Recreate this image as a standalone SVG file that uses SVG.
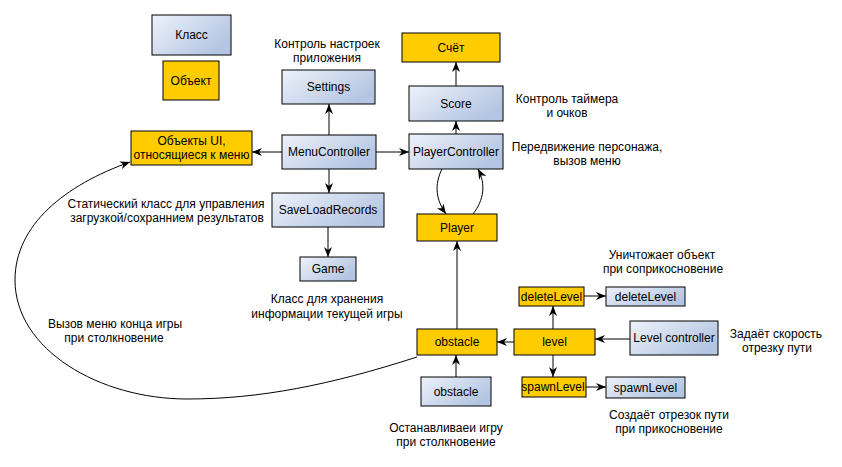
<svg xmlns="http://www.w3.org/2000/svg" width="842" height="467" viewBox="0 0 842 467">
<defs>
<linearGradient id="blue" x1="0" y1="0" x2="1" y2="0.6">
<stop offset="0" stop-color="#eef2fa"/>
<stop offset="1" stop-color="#b3c5e2"/>
</linearGradient>
<marker id="arr" markerUnits="userSpaceOnUse" markerWidth="10" markerHeight="8" refX="10" refY="4" orient="auto">
<path d="M0,0 L10,4 L0,8 L3,4 Z" fill="#000"/>
</marker>
</defs>
<style>
text{font-family:"Liberation Sans",Arial,sans-serif;font-size:12px;fill:#000;text-anchor:middle}
.cls{fill:url(#blue);stroke:#000;stroke-width:1}
.obj{fill:#ffcc00;stroke:#000;stroke-width:1}
.c{fill:none;stroke:#000;stroke-width:1;marker-end:url(#arr)}
</style>
<rect width="842" height="467" fill="#fff"/>

<g id="legend-class"><rect class="cls" x="152" y="15" width="79" height="40"/><text x="191.5" y="39">Класс</text></g>
<g id="legend-object"><rect class="obj" x="163" y="61" width="56" height="39"/><text x="191" y="84.5">Объект</text></g>

<g id="settings"><rect class="cls" x="282" y="70" width="93" height="34"/><text x="328.5" y="91">Settings</text></g>
<g id="menucontroller"><rect class="cls" x="282" y="135" width="94" height="34"/><text x="329" y="156">MenuController</text></g>
<g id="ui-objects"><rect class="obj" x="131" y="131" width="121" height="34"/><text x="191.5" y="145">Объекты UI,</text><text x="191.5" y="159">относящиеся к меню</text></g>
<g id="saveloadrecords"><rect class="cls" x="272" y="193" width="112" height="34"/><text x="328" y="214">SaveLoadRecords</text></g>
<g id="game"><rect class="cls" x="300" y="257" width="56" height="24"/><text x="328" y="273">Game</text></g>

<g id="schet"><rect class="obj" x="402" y="33" width="98" height="29"/><text x="451" y="51.5">Счёт</text></g>
<g id="score"><rect class="cls" x="409" y="86" width="94" height="35"/><text x="456" y="107.5">Score</text></g>
<g id="playercontroller"><rect class="cls" x="409" y="134" width="94" height="35"/><text x="456" y="155.5">PlayerController</text></g>
<g id="player"><rect class="obj" x="417" y="214" width="80" height="27"/><text x="457" y="231.5">Player</text></g>
<g id="obstacle-obj"><rect class="obj" x="417" y="329" width="80" height="26"/><text x="457" y="346">obstacle</text></g>
<g id="obstacle-cls"><rect class="cls" x="421" y="377" width="70" height="29"/><text x="456" y="395.5">obstacle</text></g>

<g id="level"><rect class="obj" x="514" y="329" width="81" height="26"/><text x="554.5" y="346">level</text></g>
<g id="levelcontroller"><rect class="cls" x="630" y="321" width="88" height="34"/><text x="674" y="342">Level controller</text></g>
<g id="deletelevel-obj"><rect class="obj" x="519" y="287" width="65" height="19"/><text x="551.5" y="300.5">deleteLevel</text></g>
<g id="deletelevel-cls"><rect class="cls" x="606" y="287" width="79" height="19"/><text x="645.5" y="300.5">deleteLevel</text></g>
<g id="spawnlevel-obj"><rect class="obj" x="522" y="377" width="64" height="20"/><text x="553" y="391">spawnLevel</text></g>
<g id="spawnlevel-cls"><rect class="cls" x="606" y="377" width="79" height="21"/><text x="645.5" y="391.5">spawnLevel</text></g>

<g id="labels">
<text x="327" y="48">Контроль настроек</text><text x="327" y="62">приложения</text>
<text x="567" y="103">Контроль таймера</text><text x="567" y="117">и очков</text>
<text x="587" y="151">Передвижение персонажа,</text><text x="587" y="165">вызов меню</text>
<text x="166" y="208">Статический класс для управления</text><text x="167" y="222">загрузкой/сохраннием результатов</text>
<text x="327" y="303">Класс для хранения</text><text x="327" y="318">информации текущей игры</text>
<text x="115" y="328">Вызов меню конца игры</text><text x="114" y="342">при столкновение</text>
<text x="446" y="432">Останавливаеи игру</text><text x="446" y="446">при столкновение</text>
<text x="662" y="259">Уничтожает объект</text><text x="663" y="273">при соприкосновение</text>
<text x="776" y="338">Задаёт скорость</text><text x="777" y="352">отрезку пути</text>
<text x="669" y="419">Создаёт отрезок пути</text><text x="669" y="433">при прикосновение</text>
</g>

<g id="connectors">
<path class="c" d="M329,135 L329,104"/>
<path class="c" d="M282,152 L252,152"/>
<path class="c" d="M376,152 L409,152"/>
<path class="c" d="M329,169 L329,193"/>
<path class="c" d="M328,227 L328,257"/>
<path class="c" d="M456,134 L456,121"/>
<path class="c" d="M456,86 L456,62"/>
<path class="c" d="M442,169 C434,185 436,200 446,214"/>
<path class="c" d="M473,214 C484,200 486,184 478,169"/>
<path class="c" d="M457,329 L457,241"/>
<path class="c" d="M456,377 L456,355"/>
<path class="c" d="M514,342 L497,342"/>
<path class="c" d="M630,339 L595,339"/>
<path class="c" d="M553,329 L553,306"/>
<path class="c" d="M553,355 L553,377"/>
<path class="c" d="M584,296 L606,296"/>
<path class="c" d="M586,387 L606,387"/>
<path class="c" d="M417,357 C330,385 260,399 187,399 C100,399 15,350 15,280 C15,225 65,185 130,162"/>
</g>
</svg>
